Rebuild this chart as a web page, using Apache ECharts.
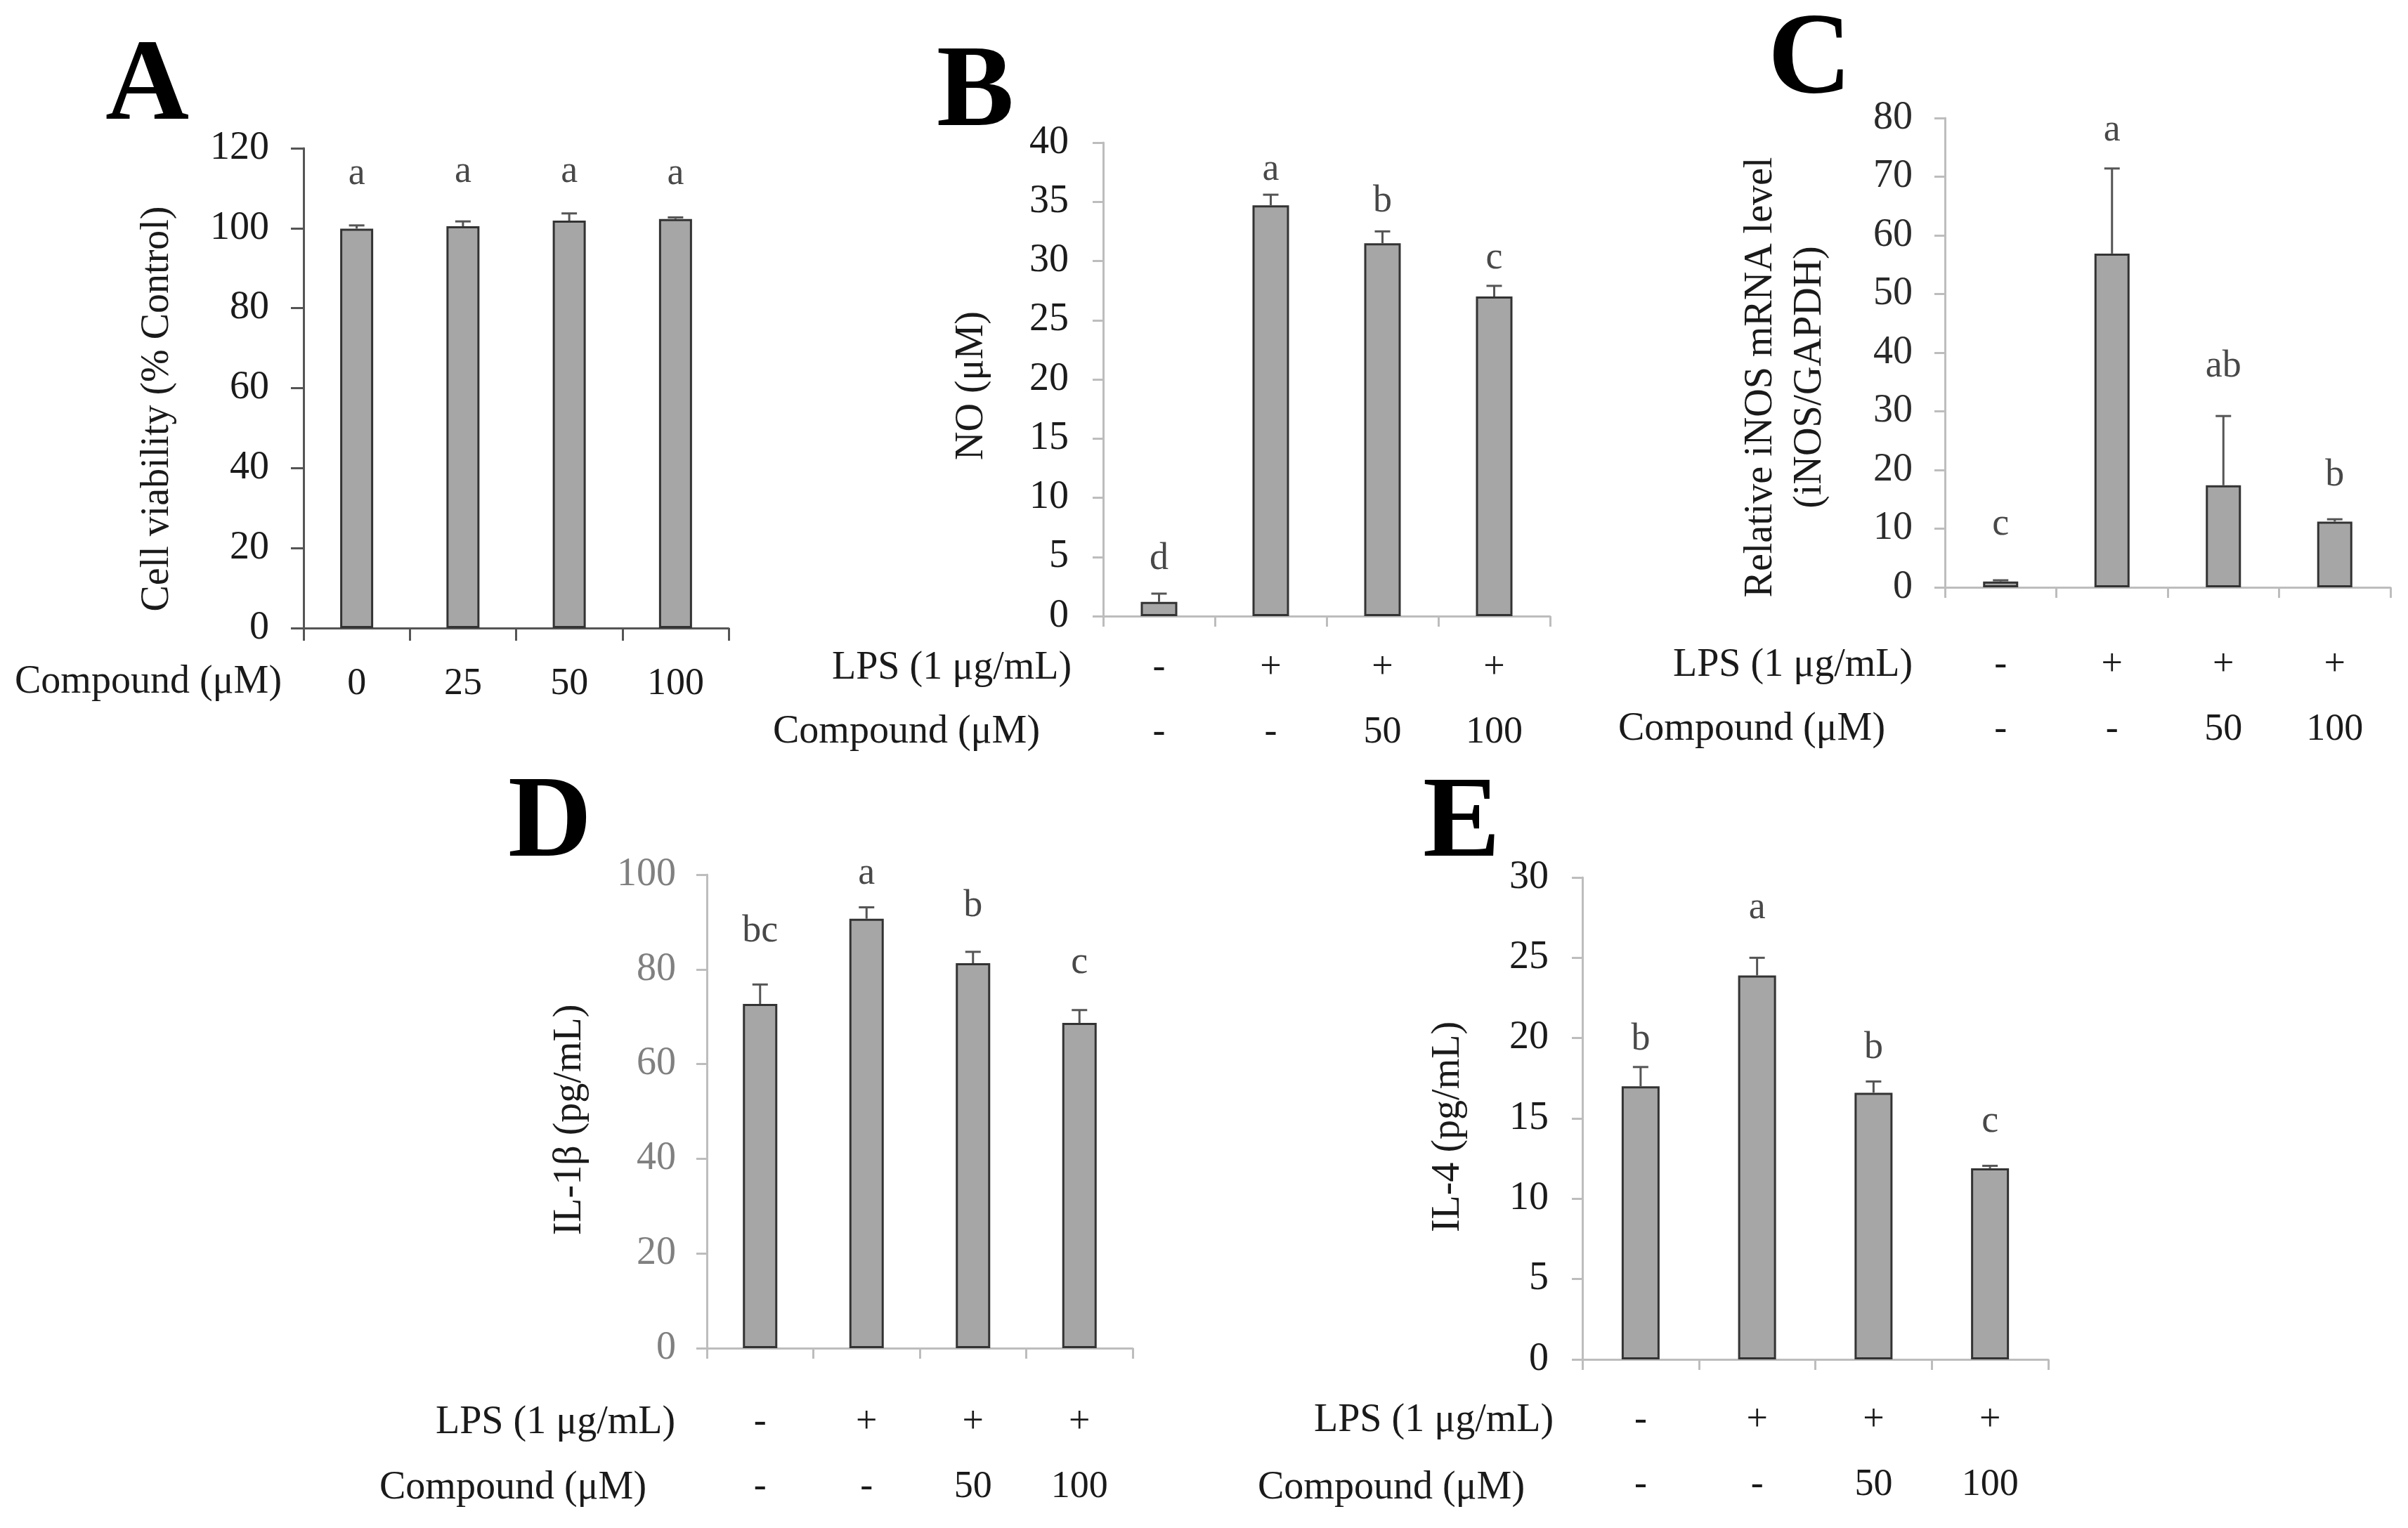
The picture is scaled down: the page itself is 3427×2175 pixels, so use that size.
<!DOCTYPE html>
<html>
<head>
<meta charset="utf-8">
<script src="https://cdn.jsdelivr.net/npm/echarts@6/dist/echarts.min.js"></script>
<style>
  html, body { margin: 0; padding: 0; background: #fff; }
  #chart { width: 3427px; height: 2175px; }
</style>
</head>
<body>
<div id="chart"></div>
<script>
// --- data ---
var doseA = ['0', '25', '50', '100'];
var viability = [99.9, 100.5, 101.9, 102.3];
var viabilityErr = [0.8, 1.2, 1.8, 0.4];
var sigA = ['a', 'a', 'a', 'a'];
var sigAY = [113.5, 114, 114, 113.5];

var lps = ['-', '+', '+', '+'];
var compound = ['-', '-', '50', '100'];

var no = [1.2, 34.7, 31.5, 27.0];
var noErr = [0.7, 0.9, 1.0, 0.9];
var sigB = ['d', 'a', 'b', 'c'];
var sigBY = [4.8, 37.7, 35.0, 30.2];

var inos = [1.0, 56.9, 17.4, 11.2];
var inosErr = [0.2, 14.5, 11.8, 0.4];
var sigC = ['c', 'a', 'ab', 'b'];
var sigCY = [10.7, 77.9, 37.6, 19.1];

var il1b = [72.7, 90.7, 81.3, 68.7];
var il1bErr = [4.1, 2.4, 2.4, 2.7];
var sigD = ['bc', 'a', 'b', 'c'];
var sigDY = [88.0, 100.2, 93.3, 81.4];

var il4 = [17.0, 23.9, 16.6, 11.9];
var il4Err = [1.2, 1.1, 0.7, 0.15];
var sigE = ['b', 'a', 'b', 'c'];
var sigEY = [19.9, 28.1, 19.4, 14.8];

var lpsCats = lps.map(function(v, i) { return v + '\n' + compound[i]; });

var serif = '"Liberation Serif", "DejaVu Serif", serif';
var ink = '#1a1a1a';
var barFill = '#a6a6a6';
var barEdge = '#333333';
var errColor = '#555555';

var panels = [
  { grid: {left: 432, top: 211, width: 605, height: 683}, max: 120, step: 20, cats: doseA,
    vals: viability, errs: viabilityErr, sig: sigA, sigY: sigAY,
    yMargin: 49, xMargin: 34, tickLen: 18, axis: '#555555', tickText: ink, barWidth: 47 },
  { grid: {left: 1570, top: 203, width: 636, height: 674}, max: 40, step: 5, cats: lpsCats,
    vals: no, errs: noErr, sig: sigB, sigY: sigBY,
    yMargin: 49, xMargin: 28, tickLen: 15, axis: '#bdbdbd', tickText: ink, barWidth: 52 },
  { grid: {left: 2768, top: 168, width: 634, height: 668}, max: 80, step: 10, cats: lpsCats,
    vals: inos, errs: inosErr, sig: sigC, sigY: sigCY,
    yMargin: 46, xMargin: 65, tickLen: 15, axis: '#bdbdbd', tickText: '#2a2a2a', barWidth: 50 },
  { grid: {left: 1006, top: 1245, width: 606, height: 674}, max: 100, step: 20, cats: lpsCats,
    vals: il1b, errs: il1bErr, sig: sigD, sigY: sigDY,
    yMargin: 44, xMargin: 60, tickLen: 15, axis: '#bdbdbd', tickText: '#808080', barWidth: 49 },
  { grid: {left: 2252, top: 1249, width: 663, height: 686}, max: 30, step: 5, cats: lpsCats,
    vals: il4, errs: il4Err, sig: sigE, sigY: sigEY,
    yMargin: 48, xMargin: 41, tickLen: 15, axis: '#bdbdbd', tickText: ink, barWidth: 54 }
];

function errRender(params, api) {
  var i = api.value(0);
  var top = api.coord([i, api.value(1) + api.value(2)]);
  var base = api.coord([i, api.value(1)]);
  var half = 11;
  var st = { stroke: errColor, lineWidth: 3 };
  return {
    type: 'group',
    children: [
      { type: 'line', shape: { x1: top[0], y1: top[1], x2: base[0], y2: base[1] }, style: st },
      { type: 'line', shape: { x1: top[0] - half, y1: top[1], x2: top[0] + half, y2: top[1] }, style: st }
    ]
  };
}

var grids = [], xAxes = [], yAxes = [], series = [];
panels.forEach(function(p, k) {
  grids.push(p.grid);
  xAxes.push({
    gridIndex: k, type: 'category', data: p.cats,
    axisLine: { lineStyle: { color: p.axis, width: 3 } },
    axisTick: { show: true, length: p.tickLen, lineStyle: { color: p.axis, width: 3 } },
    axisLabel: { margin: p.xMargin, fontSize: 54, lineHeight: 92, color: ink, fontFamily: serif }
  });
  yAxes.push({
    gridIndex: k, type: 'value', min: 0, max: p.max, interval: p.step,
    axisLine: { show: true, lineStyle: { color: p.axis, width: 3 } },
    axisTick: { show: true, length: p.tickLen, lineStyle: { color: p.axis, width: 3 } },
    splitLine: { show: false },
    axisLabel: { margin: p.yMargin, fontSize: 56, color: p.tickText, fontFamily: serif }
  });
  series.push({
    type: 'bar', xAxisIndex: k, yAxisIndex: k, data: p.vals, barWidth: p.barWidth,
    itemStyle: { color: barFill, borderColor: barEdge, borderWidth: 3 }
  });
  series.push({
    type: 'custom', xAxisIndex: k, yAxisIndex: k, z: 5, renderItem: errRender,
    data: p.vals.map(function(v, i) { return [i, v, p.errs[i]]; })
  });
  series.push({
    type: 'scatter', xAxisIndex: k, yAxisIndex: k, clip: false, symbolSize: 1,
    itemStyle: { color: 'rgba(0,0,0,0)' },
    data: p.sigY.map(function(v, i) { return [i, v]; }),
    label: {
      show: true, position: 'inside', fontSize: 54, color: ink, fontFamily: serif,
      formatter: function(d) { return p.sig[d.dataIndex]; }
    }
  });
});

function txt(s, x, y, size, bold) {
  return {
    type: 'text', x: x, y: y,
    style: { text: s, fontSize: size, fontWeight: bold ? 'bold' : 'normal', fontFamily: serif,
             fill: bold ? '#000' : ink, align: 'left', verticalAlign: 'middle' }
  };
}

// rotated y-axis titles, centred on (x, y)
function vtxt(s, x, y) {
  return {
    type: 'text', x: x, y: y, rotation: Math.PI / 2,
    style: { text: s, fontSize: 56, lineHeight: 70, fontFamily: serif, fill: ink,
             align: 'center', verticalAlign: 'middle' }
  };
}

var graphics = [
  txt('A', 150, 126, 165, true),
  txt('B', 1333, 135, 165, true),
  txt('C', 2516, 88, 165, true),
  txt('D', 723, 1175, 165, true),
  txt('E', 2025, 1175, 165, true),
  vtxt('Cell viability (% Control)', 224, 582),
  vtxt('NO (\u03bcM)', 1383, 549),
  vtxt('Relative iNOS mRNA level\n(iNOS/GAPDH)', 2541, 537),
  vtxt('IL-1\u03b2 (pg/mL)', 811, 1594),
  vtxt('IL-4 (pg/mL)', 2061, 1604),
  txt('Compound (\u03bcM)', 21, 971, 56),
  txt('LPS (1 \u03bcg/mL)', 1184, 951, 56),
  txt('Compound (\u03bcM)', 1100, 1042, 56),
  txt('LPS (1 \u03bcg/mL)', 2381, 947, 56),
  txt('Compound (\u03bcM)', 2303, 1038, 56),
  txt('LPS (1 \u03bcg/mL)', 620, 2025, 56),
  txt('Compound (\u03bcM)', 540, 2118, 56),
  txt('LPS (1 \u03bcg/mL)', 1870, 2022, 56),
  txt('Compound (\u03bcM)', 1790, 2118, 56)
];

var chart = echarts.init(document.getElementById('chart'));
chart.setOption({
  backgroundColor: '#fff',
  animation: false,
  grid: grids,
  xAxis: xAxes,
  yAxis: yAxes,
  series: series,
  graphic: graphics
});
</script>
</body>
</html>
